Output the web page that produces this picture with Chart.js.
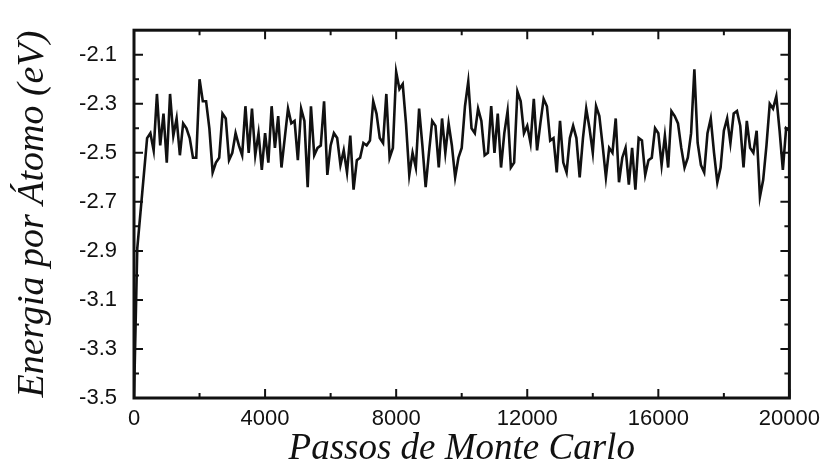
<!DOCTYPE html>
<html>
<head>
<meta charset="utf-8">
<title>Energia por Átomo</title>
<script src="https://cdn.jsdelivr.net/npm/chart.js@4/dist/chart.umd.min.js"></script>
<style>
  html, body { margin: 0; padding: 0; background: #fff; }
  #energyChart { display: block; }
</style>
</head>
<body>
<canvas id="energyChart" width="828" height="469"></canvas>
<script>
// Energy per atom (eV), one reading every 100 Monte Carlo steps
const stepSize = 100;
const energy = [
  -3.50, -2.89, -2.74, -2.59, -2.44, -2.42, -2.49, -2.26, -2.47, -2.34,
  -2.54, -2.26, -2.43, -2.36, -2.51, -2.38, -2.40, -2.44, -2.52, -2.52,
  -2.20, -2.29, -2.29, -2.40, -2.58, -2.54, -2.52, -2.34, -2.36, -2.53,
  -2.50, -2.42, -2.47, -2.51, -2.31, -2.50, -2.32, -2.51, -2.42, -2.57,
  -2.42, -2.54, -2.31, -2.48, -2.35, -2.56, -2.44, -2.32, -2.38, -2.37,
  -2.53, -2.32, -2.37, -2.64, -2.31, -2.51, -2.48, -2.47, -2.29, -2.59,
  -2.47, -2.42, -2.44, -2.55, -2.49, -2.58, -2.43, -2.65, -2.53, -2.52,
  -2.46, -2.47, -2.45, -2.29, -2.34, -2.44, -2.46, -2.26, -2.52, -2.48,
  -2.17, -2.24, -2.22, -2.38, -2.59, -2.50, -2.56, -2.32, -2.47, -2.64,
  -2.50, -2.37, -2.39, -2.56, -2.36, -2.50, -2.38, -2.47, -2.60, -2.52,
  -2.48, -2.31, -2.21, -2.40, -2.42, -2.32, -2.37, -2.51, -2.50, -2.31,
  -2.50, -2.34, -2.56, -2.42, -2.33, -2.56, -2.54, -2.25, -2.29, -2.42,
  -2.39, -2.46, -2.28, -2.49, -2.38, -2.28, -2.31, -2.45, -2.44, -2.58,
  -2.37, -2.54, -2.58, -2.44, -2.39, -2.44, -2.60, -2.44, -2.32, -2.40,
  -2.50, -2.31, -2.35, -2.47, -2.60, -2.48, -2.50, -2.36, -2.62, -2.52,
  -2.48, -2.63, -2.48, -2.65, -2.44, -2.45, -2.59, -2.53, -2.52, -2.40,
  -2.42, -2.55, -2.43, -2.56, -2.33, -2.35, -2.38, -2.48, -2.56, -2.52,
  -2.42, -2.16, -2.46, -2.55, -2.58, -2.42, -2.36, -2.50, -2.62, -2.56,
  -2.41, -2.36, -2.46, -2.34, -2.33, -2.39, -2.56, -2.37, -2.48, -2.50,
  -2.41, -2.68, -2.61, -2.47, -2.30, -2.32, -2.27, -2.41, -2.57, -2.40,
  -2.41
];
const steps = energy.map((_, i) => i * stepSize);

// axis ticks (labelled and minor)
const xTickValues = [0, 4000, 8000, 12000, 16000, 20000];
const xTickLabels = ["0", "4000", "8000", "12000", "16000", "20000"];
const xMinorValues = [2000, 6000, 10000, 14000, 18000];
const yTickValues = [-3.5, -3.3, -3.1, -2.9, -2.7, -2.5, -2.3, -2.1];
const yTickLabels = ["-3.5", "-3.3", "-3.1", "-2.9", "-2.7", "-2.5", "-2.3", "-2.1"];
const yMinorValues = [-3.4, -3.2, -3.0, -2.8, -2.6, -2.4, -2.2];

const ink = "#111";
const tickFont = { family: "'Liberation Sans', Helvetica, Arial, sans-serif", size: 22 };
const serif = "'Liberation Serif', 'Times New Roman', serif";

// box around the plot with inward ticks on every side
const frameAndTicks = {
  id: "frameAndTicks",
  afterDatasetsDraw(chart) {
    const { ctx, chartArea: a, scales: { x, y } } = chart;
    ctx.save();
    ctx.strokeStyle = ink;
    ctx.lineWidth = 2;
    ctx.beginPath();
    const xTick = (v, len) => {
      const px = x.getPixelForValue(v);
      ctx.moveTo(px, a.bottom); ctx.lineTo(px, a.bottom - len);
      ctx.moveTo(px, a.top); ctx.lineTo(px, a.top + len);
    };
    const yTick = (v, len) => {
      const py = y.getPixelForValue(v);
      ctx.moveTo(a.left, py); ctx.lineTo(a.left + len, py);
      ctx.moveTo(a.right, py); ctx.lineTo(a.right - len, py);
    };
    xTickValues.forEach(v => xTick(v, 9));
    xMinorValues.forEach(v => xTick(v, 5));
    yTickValues.forEach(v => yTick(v, 9));
    yMinorValues.forEach(v => yTick(v, 5));
    ctx.stroke();
    ctx.lineWidth = 3;
    ctx.strokeRect(a.left, a.top, a.right - a.left, a.bottom - a.top);
    ctx.restore();
  }
};

const ctx = document.getElementById("energyChart").getContext("2d");
new Chart(ctx, {
  type: "line",
  data: {
    datasets: [
      {
        data: steps.map((s, i) => ({ x: s, y: energy[i] })),
        borderColor: ink,
        borderWidth: 2.6,
        pointRadius: 0,
        tension: 0,
        fill: false,
      },
    ],
  },
  options: {
    responsive: false,
    animation: false,
    layout: { padding: { top: 13, right: 36, left: 0, bottom: 0 } },
    plugins: {
      legend: { display: false },
      tooltip: { enabled: false },
    },
    scales: {
      x: {
        type: "linear",
        min: 0,
        max: 20000,
        grid: { display: false, drawTicks: false },
        border: { display: false },
        afterBuildTicks: (scale) => { scale.ticks = xTickValues.map(v => ({ value: v })); },
        afterFit: (scale) => { scale.height = 71; },
        ticks: {
          padding: 8,
          maxRotation: 0,
          autoSkip: false,
          color: ink,
          font: tickFont,
          callback: (v) => xTickLabels[xTickValues.indexOf(v)],
        },
        title: {
          display: true,
          text: "Passos de Monte Carlo",
          color: ink,
          font: { family: serif, size: 37, style: "italic", lineHeight: 1 },
          padding: { top: 0, bottom: 1 },
        },
      },
      y: {
        min: -3.5,
        max: -2.0,
        grid: { display: false, drawTicks: false },
        border: { display: false },
        afterBuildTicks: (scale) => { scale.ticks = yTickValues.map(v => ({ value: v })); },
        afterFit: (scale) => { scale.width = 134; },
        ticks: {
          padding: 17,
          autoSkip: false,
          color: ink,
          font: tickFont,
          callback: (v) => yTickLabels[yTickValues.indexOf(v)],
        },
        title: {
          display: true,
          text: "Energia por Átomo (eV)",
          color: ink,
          font: { family: serif, size: 38, style: "italic", lineHeight: 1 },
          padding: { top: 14, bottom: 0 },
        },
      },
    },
  },
  plugins: [frameAndTicks],
});
</script>
</body>
</html>
